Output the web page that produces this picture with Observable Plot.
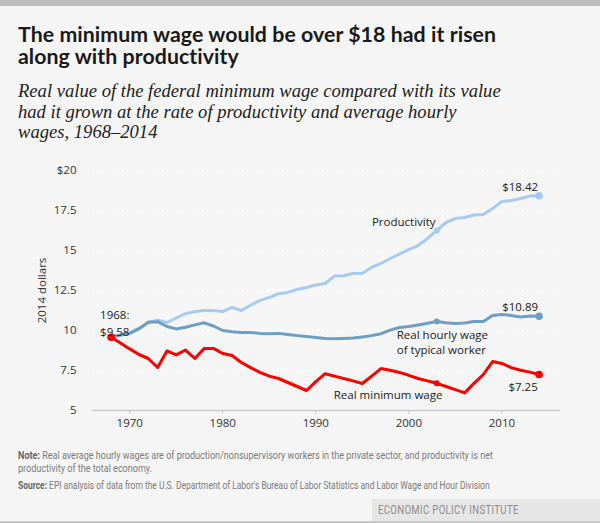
<!DOCTYPE html>
<html>
<head>
<meta charset="utf-8">
<script src="https://cdn.jsdelivr.net/npm/d3@7"></script>
<script src="https://cdn.jsdelivr.net/npm/@observablehq/plot@0.6"></script>
<style>
  html, body { margin: 0; padding: 0; }
  body { width: 600px; height: 523px; background: #f5f5f5; position: relative; overflow: hidden; }
  #topbar { position: absolute; left: 0; top: 0; width: 600px; height: 6px; background: #bcbcbc; }
  #title { position: absolute; left: 18px; top: 24px; font-family: Lato, "Open Sans", sans-serif; font-weight: 700; font-size: 21.3px; letter-spacing: 0.06px; line-height: 21.6px; color: #1a1a1a; white-space: nowrap; }
  #title div { height: 21.6px; overflow: visible; }
  #subtitle { position: absolute; left: 18px; top: 81px; font-family: "Liberation Serif", serif; font-style: italic; font-size: 18.6px; line-height: 20.5px; color: #222; white-space: nowrap; }
  #subtitle div { height: 20.5px; }
  #chart { position: absolute; left: 0; top: 150px; }
  #notes { position: absolute; left: 18px; top: 449px; font-family: Roboto, sans-serif; font-size: 10.5px; line-height: 13px; color: #7a7a7a; white-space: nowrap; }
  #notes b { color: #666; }
  #notes p { margin: 0 0 4px 0; transform-origin: 0 0; }
  #notes p.n { transform: scaleX(0.861); }
  #notes p.s { transform: scaleX(0.803); }
  #footer { position: absolute; left: 372px; top: 499px; width: 228px; height: 22px; background: #e6e6e6; }
  #footer span { position: absolute; left: 6px; top: 0; font-family: Roboto, sans-serif; font-size: 12px; line-height: 22px; letter-spacing: 0.4px; color: #8e8e8e; white-space: nowrap; transform: scaleX(0.8); transform-origin: 0 50%; }
  #bottombar { position: absolute; left: 0; top: 521px; width: 600px; height: 2px; background: #c8c8c8; }
</style>
</head>
<body>
<div id="topbar"></div>
<div id="title"><div>The minimum wage would be over $18 had it risen</div><div>along with productivity</div></div>
<div id="subtitle"><div>Real value of the federal minimum wage compared with its value</div><div>had it grown at the rate of productivity and average hourly</div><div>wages, 1968–2014</div></div>
<div id="chart"></div>
<div id="notes">
  <p class="n"><b>Note:</b> Real average hourly wages are of production/nonsupervisory workers in the private sector, and productivity is net<br>productivity of the total economy.</p>
  <p class="s"><b>Source:</b> EPI analysis of data from the U.S. Department of Labor's Bureau of Labor Statistics and Labor Wage and Hour Division</p>
</div>
<div id="footer"><span>ECONOMIC POLICY INSTITUTE</span></div>
<div id="bottombar"></div>
<script>
const years = [1968,1969,1970,1971,1972,1973,1974,1975,1976,1977,1978,1979,1980,1981,1982,1983,1984,1985,1986,1987,1988,1989,1990,1991,1992,1993,1994,1995,1996,1997,1998,1999,2000,2001,2002,2003,2004,2005,2006,2007,2008,2009,2010,2011,2012,2013,2014];

const minimumWage = [9.58,9.22,8.85,8.50,8.25,7.69,8.72,8.48,8.78,8.25,8.88,8.88,8.56,8.44,8.00,7.68,7.38,7.15,7.00,6.75,6.50,6.25,6.80,7.30,7.15,7.00,6.85,6.69,7.15,7.62,7.52,7.38,7.20,7.00,6.85,6.70,6.50,6.30,6.10,6.70,7.25,8.06,7.94,7.68,7.52,7.40,7.25];

const productivity = [9.58,9.70,9.85,10.15,10.50,10.65,10.50,10.78,11.05,11.18,11.25,11.25,11.18,11.44,11.25,11.58,11.88,12.06,12.30,12.38,12.56,12.69,12.85,12.94,13.40,13.42,13.56,13.58,13.94,14.19,14.50,14.78,15.06,15.31,15.75,16.25,16.75,17.00,17.06,17.22,17.25,17.62,18.06,18.12,18.25,18.40,18.42];

const typicalWage = [9.58,9.72,9.82,10.10,10.52,10.55,10.25,10.10,10.20,10.35,10.48,10.28,10.00,9.92,9.88,9.88,9.82,9.80,9.82,9.75,9.68,9.62,9.56,9.50,9.48,9.50,9.53,9.60,9.68,9.80,10.02,10.19,10.25,10.35,10.45,10.56,10.48,10.44,10.47,10.56,10.56,10.94,11.00,10.94,10.85,10.90,10.89];

const yTicks = [5, 7.5, 10, 12.5, 15, 17.5, 20];
const xTicks = [1970, 1980, 1990, 2000, 2010];

const colors = { productivity: "#a7caf1", typical: "#6e9ec5", minimum: "#fe0000" };

const series = [
  { key: "productivity", values: productivity },
  { key: "typical", values: typicalWage },
  { key: "minimum", values: minimumWage }
];
const rows = series.flatMap(s => years.map((yr, i) => ({ key: s.key, year: yr, value: s.values[i] })));
const rowOf = (key, yr) => rows.find(r => r.key === key && r.year === yr);

const endDots = [rowOf("productivity", 2014), rowOf("typical", 2014), rowOf("minimum", 2014), rowOf("minimum", 1968)];
const midDots = [rowOf("productivity", 2003), rowOf("typical", 2003), rowOf("minimum", 2003)];

const labels = [
  { row: rowOf("minimum", 1968), text: "1968:\n$9.58", dx: -11, dy: -15, anchor: "start", lh: 1.5 },
  { row: rowOf("productivity", 2014), text: "$18.42", dx: -19, dy: -10, anchor: "middle", lh: 1.3 },
  { row: rowOf("typical", 2014), text: "$10.89", dx: -19, dy: -10, anchor: "middle", lh: 1.3 },
  { row: rowOf("minimum", 2014), text: "$7.25", dx: -16, dy: 12, anchor: "middle", lh: 1.3 },
  { row: rowOf("productivity", 2003), text: "Productivity", dx: -33, dy: -9, anchor: "middle", lh: 1.3 },
  { row: rowOf("typical", 2003), text: "Real hourly wage\nof typical worker", dx: -40, dy: 20, anchor: "start", lh: 1.3 },
  { row: rowOf("minimum", 2003), text: "Real minimum wage", dx: -103, dy: 11, anchor: "start", lh: 1.3 }
];

const fmtY = d => d === 20 ? "$20" : (d % 1 ? d.toFixed(1) : String(d));

const chart = Plot.plot({
  width: 600,
  height: 290,
  marginTop: 20,
  marginBottom: 30,
  marginLeft: 92,
  marginRight: 40,
  style: { background: "transparent", fontFamily: "'Open Sans', sans-serif", fontSize: "11.5px", color: "#333", overflow: "visible" },
  x: { domain: [1966, 2016.3] },
  y: { domain: [5, 20] },
  marks: [
    Plot.gridY(yTicks.slice(1), { stroke: "#ffffff", strokeOpacity: 1, strokeWidth: 2, strokeDasharray: "1.5,3.5" }),
    Plot.ruleY([5], { stroke: "#cccccc", strokeWidth: 1.5 }),
    Plot.axisY(yTicks, { tickSize: 0, tickPadding: 16, tickFormat: fmtY, label: null, fill: "#333" }),
    Plot.axisX(xTicks, { tickSize: 4, tickPadding: 4, tickFormat: d => String(d), label: null, stroke: "#cccccc", fill: "#333" }),
    Plot.text(["2014 dollars"], { frameAnchor: "left", dx: -50, rotate: -90, textAnchor: "middle", fill: "#333", fontSize: 11.5 }),
    ...series.map(s => Plot.line(rows.filter(r => r.key === s.key), { x: "year", y: "value", stroke: colors[s.key], strokeWidth: 3, curve: "linear" })),
    Plot.dot(midDots, { x: "year", y: "value", r: 3, fill: d => colors[d.key] }),
    Plot.dot(endDots, { x: "year", y: "value", r: 3.8, fill: d => colors[d.key] }),
    ...labels.map(l => Plot.text([l], { x: d => d.row.year, y: d => d.row.value, text: "text", dx: l.dx, dy: l.dy, textAnchor: l.anchor, lineHeight: l.lh, fill: "#222", fontSize: 11.5 }))
  ]
});
document.getElementById("chart").appendChild(chart);
</script>
</body>
</html>
